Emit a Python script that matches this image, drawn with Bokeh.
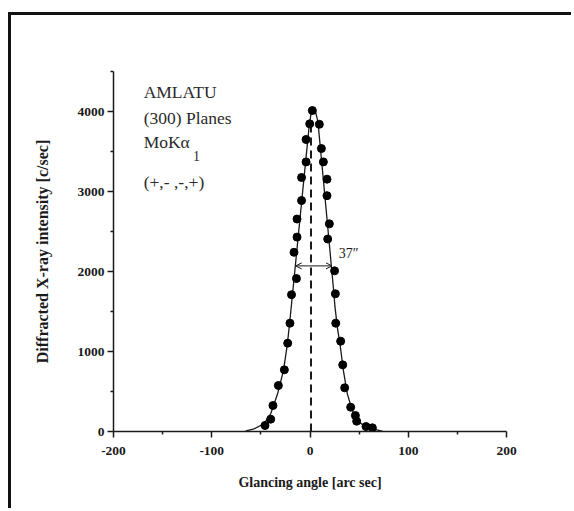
from bokeh.plotting import figure
from bokeh.models import FixedTicker, Arrow, OpenHead, Range1d, Label, PrintfTickFormatter
from bokeh.embed import file_html
from bokeh.resources import INLINE

# Measured rocking-curve points: glancing angle [arc sec] and intensity [c/sec]
angle = [-45.8, -40.0, -37.7, -32.2, -26.1, -22.7, -20.4, -18.8, -13.8, -16.3,
         -13.2, -13.2, -8.6, -8.6, -4.0, -4.0, -0.3, 2.4,
         9.5, 11.6, 13.6, 17.3, 17.3, 19.7, 18.0, 25.0, 25.8, 26.2,
         31.2, 33.3, 35.3, 41.4, 46.2, 47.5, 57.0, 63.5]
counts = [75, 154, 325, 575, 771, 1104, 1354, 1710, 1912, 2240,
          2430, 2656, 2887, 3175, 3370, 3650, 3846, 4012,
          3840, 3537, 3370, 3154, 2948, 2596, 2406, 2008, 1721, 1354,
          1129, 833, 546, 304, 200, 129, 62, 46]

# Fitted profile
fit_angle = [-66, -64, -57, -47, -40, -33, -27, -23, -20, -15, -10, -5, -1,
             1.5, 3.5, 5.5, 8, 12, 16, 20, 24, 25.4, 28, 30.5, 34, 38, 43,
             50, 58, 68, 74]
fit_counts = [0, 12, 33, 96, 221, 471, 762, 1096, 1444, 2064, 2684, 3304, 3800,
              4010, 4040, 4000, 3880, 3360, 2830, 2300, 1770, 1560, 1290, 1096,
              762, 471, 262, 117, 46, 20, 0]

x_ticks = [-200, -100, 0, 100, 200]
x_minor = [-150, -50, 50, 150]
y_ticks = [0, 1000, 2000, 3000, 4000]
y_minor = [500, 1500, 2500, 3500, 4500]

fwhm = 37              # full width at half maximum [arc sec]
fwhm_center = 3.9
fwhm_level = 2070
peak_angle = 1.0
peak_top = 3900

SERIF = "Liberation Serif"
INK = "#1a1a1a"

p = figure(width=563, height=496, output_backend="svg", toolbar_location=None,
           x_range=Range1d(-200, 200), y_range=Range1d(0, 4500),
           min_border_left=102, min_border_right=68,
           min_border_top=56, min_border_bottom=80,
           background_fill_color="white", border_fill_color="white")
p.margin = (12, 0, 0, 8)
p.styles = {"border-top": "3px solid #111", "border-left": "3px solid #111"}

p.outline_line_color = None
p.xgrid.visible = False
p.ygrid.visible = False

for ax, ticks, minor in ((p.xaxis[0], x_ticks, x_minor), (p.yaxis[0], y_ticks, y_minor)):
    ax.ticker = FixedTicker(ticks=ticks, minor_ticks=minor)
    ax.formatter = PrintfTickFormatter(format="%d")
    ax.axis_line_color = INK
    ax.axis_line_width = 1.5
    ax.major_tick_line_color = INK
    ax.major_tick_line_width = 1.5
    ax.minor_tick_line_color = INK
    ax.minor_tick_line_width = 1.5
    ax.major_tick_in = 0
    ax.major_tick_out = 6
    ax.minor_tick_in = 0
    ax.minor_tick_out = 3
    ax.major_label_text_font = SERIF
    ax.major_label_text_font_style = "bold"
    ax.major_label_text_font_size = "13.5px"
    ax.major_label_text_color = INK
    ax.axis_label_text_font = SERIF
    ax.axis_label_text_font_style = "bold"
    ax.axis_label_text_color = INK

p.xaxis.axis_label = "Glancing angle [arc sec]"
p.yaxis.axis_label = "Diffracted X-ray intensity [c/sec]"
p.xaxis.axis_label_text_font_size = "14px"
p.yaxis.axis_label_text_font_size = "16px"
p.xaxis.major_label_standoff = 9
p.xaxis.axis_label_standoff = 17
p.yaxis.major_label_standoff = 3
p.yaxis.axis_label_standoff = 24

# fitted curve, peak position marker and measured points
p.line(fit_angle, fit_counts, line_color=INK, line_width=1.3)
p.line([peak_angle, peak_angle], [0, peak_top], line_color=INK,
       line_width=2, line_dash="8 5")
p.scatter(angle, counts, size=8, fill_color="black", line_color="black")

# FWHM arrow and its label
p.add_layout(Arrow(x_start=fwhm_center - fwhm / 2, x_end=fwhm_center + fwhm / 2,
                   y_start=fwhm_level, y_end=fwhm_level,
                   start=OpenHead(size=6, line_color=INK, line_width=1),
                   end=OpenHead(size=6, line_color=INK, line_width=1),
                   line_color=INK, line_width=1))
p.add_layout(Label(x=29.2, y=2225, text=f"{fwhm}\u2033", text_font=SERIF,
                   text_font_size="14px", text_color=INK,
                   text_baseline="middle", text_align="left"))

# sample description
info = [("AMLATU", 4241), ("(300) Planes", 3921), ("MoK\u03b1", 3616), ("(+,- ,-,+)", 3116)]
for txt, yy in info:
    p.add_layout(Label(x=-169.3, y=yy, text=txt, text_font=SERIF,
                       text_font_size="17.5px", text_color="#2a2a2a",
                       text_baseline="middle", text_align="left"))
p.add_layout(Label(x=-119, y=3450, text="1", text_font=SERIF,
                   text_font_size="14px", text_color="#2a2a2a",
                   text_baseline="middle", text_align="left"))

open("out.html", "w").write(file_html(p, INLINE))
